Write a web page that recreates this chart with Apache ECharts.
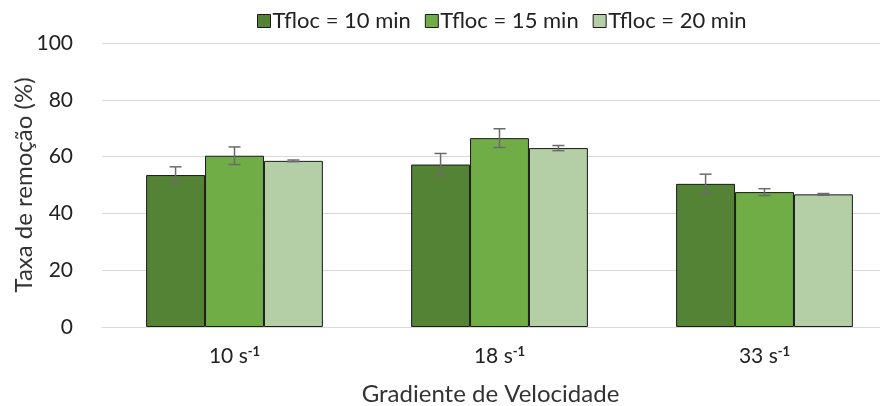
<!DOCTYPE html>
<html>
<head>
<meta charset="utf-8">
<script src="https://cdn.jsdelivr.net/npm/echarts@6/dist/echarts.min.js"></script>
<style>
  html, body { margin: 0; padding: 0; background: #fff; }
  #chart { width: 880px; height: 406px; }
</style>
</head>
<body>
<div id="chart"></div>
<script>
const categories = ['10', '18', '33']
const seriesNames = ['Tfloc = 10 min', 'Tfloc = 15 min', 'Tfloc = 20 min']
const values10 = [53.5, 57.2, 50.4]
const values15 = [60.3, 66.5, 47.5]
const values20 = [58.5, 63.0, 46.7]
const err10 = [2.9, 3.9, 3.4]
const err15 = [3.1, 3.3, 1.2]
const err20 = [0.3, 0.9, 0.3]
const yTicks = [0, 20, 40, 60, 80, 100]

const colors = ['#558335', '#70ad47', '#b4cfa5']
const catGap = 0.333
const font = 'Lato, "Noto Sans", sans-serif'

const allValues = [values10, values15, values20]
const allErrs = [err10, err15, err20]

const chart = echarts.init(document.getElementById('chart'), null, { renderer: 'canvas' })

// error bar drawn on top of the i-th bar of each group
function errorRenderer(idx) {
  return function (params, api) {
    const cat = api.value(0)
    const lo = api.coord([cat, api.value(1)])
    const hi = api.coord([cat, api.value(2)])
    const band = api.size([1, 0])[0]
    const barW = band * (1 - catGap) / 3
    const x = lo[0] + (idx - 1) * barW
    const cap = 6
    const style = { stroke: '#6b6b6b', lineWidth: 1.5 }
    return {
      type: 'group',
      children: [
        { type: 'line', shape: { x1: x, y1: hi[1], x2: x, y2: lo[1] }, style: style },
        { type: 'line', shape: { x1: x - cap, y1: hi[1], x2: x + cap, y2: hi[1] }, style: style },
        { type: 'line', shape: { x1: x - cap, y1: lo[1], x2: x + cap, y2: lo[1] }, style: style }
      ]
    }
  }
}

const series = []
seriesNames.forEach(function (name, i) {
  series.push({
    name: name,
    type: 'bar',
    data: allValues[i],
    barGap: '0%',
    barWidth: ((1 - catGap) / 3 * 100) + '%',
    itemStyle: { color: colors[i], borderColor: '#1a1a1a', borderWidth: 1 },
    emphasis: { disabled: true }
  })
})
seriesNames.forEach(function (name, i) {
  series.push({
    type: 'custom',
    renderItem: errorRenderer(i),
    data: allValues[i].map(function (v, k) {
      return [k, v - allErrs[i][k], v + allErrs[i][k]]
    }),
    z: 10,
    silent: true
  })
})

const option = {
  backgroundColor: '#ffffff',
  animation: false,
  textStyle: { fontFamily: font },
  legend: {
    data: seriesNames,
    top: 5,
    left: 252,
    itemWidth: 13,
    itemHeight: 13,
    itemGap: 14,
    icon: 'rect',
    itemStyle: { borderColor: '#1a1a1a', borderWidth: 1 },
    textStyle: { fontSize: 22, color: '#222', fontFamily: font, padding: [0, 0, 0, -3] }
  },
  grid: { left: 102, top: 43, bottom: 79, width: 795, outerBoundsMode: 'none', containLabel: false },
  xAxis: {
    type: 'category',
    data: categories,
    name: 'Gradiente de Velocidade',
    nameLocation: 'middle',
    nameGap: 55,
    nameMoveOverlap: false,
    nameTextStyle: { fontSize: 24, color: '#333', fontFamily: font, padding: [0, 18, 0, 0] },
    axisLine: { lineStyle: { color: '#d9d9d9', width: 1 } },
    axisTick: { show: false },
    axisLabel: {
      margin: 18,
      formatter: function (v) { return '{n|' + v + ' s}{s|-1}' },
      rich: {
        n: { fontSize: 21, color: '#222', fontFamily: font },
        s: { fontSize: 13, color: '#222', fontWeight: 'bold', fontFamily: font, padding: [0, 0, 9, 0] }
      }
    }
  },
  yAxis: {
    type: 'value',
    min: yTicks[0],
    max: yTicks[yTicks.length - 1],
    interval: 20,
    name: 'Taxa de remoção (%)',
    nameLocation: 'middle',
    nameGap: 66,
    nameMoveOverlap: false,
    nameTextStyle: { fontSize: 24, color: '#333', fontFamily: font },
    axisLine: { show: false },
    axisTick: { show: false },
    axisLabel: { margin: 29, fontSize: 21, color: '#222', fontFamily: font },
    splitLine: { lineStyle: { color: '#d9d9d9', width: 1 } }
  },
  series: series
}

chart.setOption(option)
</script>
</body>
</html>
